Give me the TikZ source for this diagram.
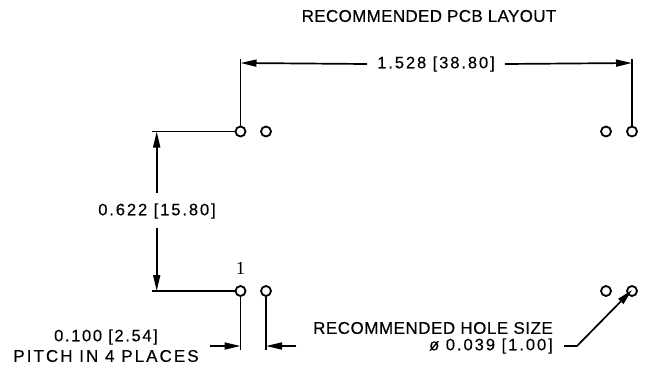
\documentclass[tikz,border=0pt]{standalone}
\usepackage{fontspec}
\setmainfont{Liberation Sans}
\usetikzlibrary{arrows.meta}
\tikzset{
  hole/.style={circle,draw=black,line width=1.8pt,minimum size=10pt,inner sep=0pt,fill=white},
  dimline/.style={line width=1.7pt,draw=black},
  extline/.style={line width=1.9pt,draw=black},
  dimtip/.style={-{Triangle[length=16pt,width=7pt]}},
  cadtext/.style={inner sep=0pt,font=\fontsize{17pt}{19pt}\selectfont\addfontfeature{FakeBold=0.4,LetterSpace=#1}},
  cadnum/.style={inner sep=0pt,font=\fontsize{16.5pt}{19pt}\selectfont\addfontfeature{FakeBold=0.4,LetterSpace=#1}}
}
\begin{document}
\begin{tikzpicture}[x=1pt,y=-1pt]
\useasboundingbox (0,0) rectangle (672,368);
% holes
\node[hole] (a1) at (240.5,131.5) {};
\node[hole] (a2) at (266,131.5) {};
\node[hole] (a3) at (606,131.5) {};
\node[hole] (a4) at (632,131.5) {};
\node[hole] (b1) at (240.5,291) {};
\node[hole] (b2) at (266,291) {};
\node[hole] (b3) at (606,291) {};
\node[hole] (b4) at (632,291) {};
% texts
\node[cadtext=2] (title) at (429,16) {RECOMMENDED PCB LAYOUT};
\node[cadnum=11.6] (wlabel) at (436,64) {1.528 [38.80]};
\node[cadnum=11.6] (hlabel) at (157,211) {0.622 [15.80]};
\node[cadnum=10] (pitchval) at (106,337) {0.100 [2.54]};
\node[cadtext=12] (pitchtxt) at (106,356) {PITCH IN 4 PLACES};
\node[cadtext=3,anchor=east] (holetxt) at (553,328) {RECOMMENDED HOLE SIZE};
\node[cadnum=12,anchor=east] (holeval) at (553,346) {ø 0.039 [1.00]};
\node[inner sep=0pt,font=\fontspec{Liberation Serif}\fontsize{18.5pt}{20pt}\selectfont] (pin) at (240.5,268) {1};
% top dimension
\coordinate (tl) at (240.5,59);
\coordinate (tr) at (632,59);
\coordinate (tlm) at (240.5,63);
\coordinate (trm) at (632,63);
\draw[extline] (a1) -- (tl);
\draw[extline] (a4) -- (tr);
\draw[dimline,dimtip] (wlabel.west) ++(-10,0) -- (tlm);
\draw[dimline,dimtip] (wlabel.east) ++(10,0) -- (trm);
% left dimension
\coordinate (el1) at (151.5,131.5);
\coordinate (el2) at (151.5,291);
\coordinate (vt) at (156.7,131.5);
\coordinate (vb) at (156.7,291);
\draw[extline] (a1) -- (el1);
\draw[extline] (b1) -- (el2);
\draw[dimline,dimtip] (156.7,193) -- (vt);
\draw[dimline,dimtip] (156.7,228) -- (vb);
% pitch
\coordinate (p1) at (240.5,350);
\coordinate (p2) at (266,350);
\coordinate (p1m) at (240.5,346);
\coordinate (p2m) at (266,346);
\coordinate (p1s) at (210,346);
\coordinate (p2s) at (296,346);
\draw[extline] (b1) -- (p1);
\draw[extline] (b2) -- (p2);
\draw[dimline,dimtip] (p1s) -- (p1m);
\draw[dimline,dimtip] (p2s) -- (p2m);
% hole leader
\coordinate (l0) at (564,346);
\coordinate (l1) at (577,346);
\coordinate (b4c) at (632,290);
\draw[dimline,dimtip] (l0) -- (l1) -- (b4c);
\end{tikzpicture}
\end{document}
